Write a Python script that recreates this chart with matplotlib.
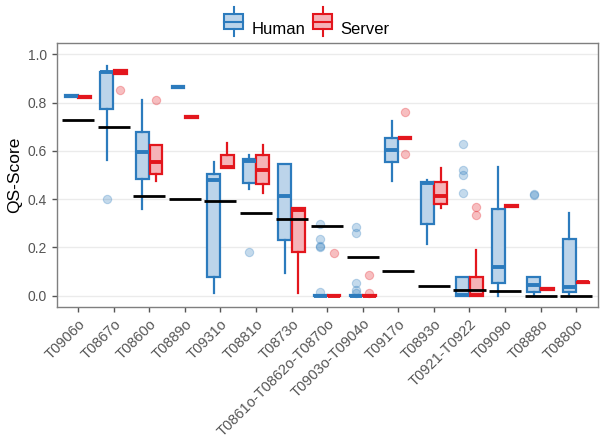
import numpy as np
import matplotlib
matplotlib.use("Agg")
from matplotlib import pyplot
from matplotlib.legend_handler import HandlerBase
from matplotlib.patches import Rectangle, Patch
from matplotlib.lines import Line2D
plt = pyplot

plt.rcParams['font.family'] = ['Liberation Sans', 'DejaVu Sans']

targets = ['T0906o', 'T0867o', 'T0860o', 'T0889o', 'T0931o', 'T0881o', 'T0873o',
           'T0861o-T0862o-T0870o', 'T0903o-T0904o', 'T0917o', 'T0893o',
           'T0921-T0922', 'T0909o', 'T0888o', 'T0880o']

# box stats: whisker low, q1, median, q3, whisker high
human_lo = [0.823, 0.562, 0.358, 0.862, 0.010, 0.443, 0.093, 0.0, 0.0, 0.476, 0.214, 0.0, 0.0, 0.0, 0.0]
human_q1 = [0.823, 0.775, 0.482, 0.862, 0.076, 0.468, 0.231, 0.0, 0.0, 0.553, 0.296, 0.0, 0.051, 0.017, 0.014]
human_med = [0.828, 0.925, 0.597, 0.866, 0.481, 0.558, 0.414, 0.0, 0.0, 0.604, 0.466, 0.005, 0.118, 0.044, 0.037]
human_q3 = [0.833, 0.928, 0.679, 0.870, 0.503, 0.568, 0.546, 0.003, 0.003, 0.653, 0.472, 0.077, 0.358, 0.079, 0.236]
human_hi = [0.833, 0.953, 0.813, 0.870, 0.555, 0.584, 0.546, 0.003, 0.003, 0.725, 0.478, 0.077, 0.533, 0.079, 0.341]
human_out = [[], [0.40], [], [], [], [0.182], [],
             [0.298, 0.235, 0.207, 0.203, 0.017], [0.285, 0.261, 0.051, 0.024, 0.012],
             [], [], [0.627, 0.521, 0.50, 0.427], [], [0.421, 0.418], []]

server_lo = [0.818, 0.920, 0.475, 0.738, 0.528, 0.427, 0.010, 0.0, 0.0, 0.651, 0.362, 0.0, 0.368, 0.025, 0.051]
server_q1 = [0.818, 0.920, 0.503, 0.738, 0.528, 0.464, 0.182, 0.0, 0.0, 0.651, 0.379, 0.0, 0.368, 0.025, 0.051]
server_med = [0.823, 0.927, 0.553, 0.742, 0.532, 0.521, 0.355, 0.0, 0.0, 0.655, 0.414, 0.003, 0.372, 0.029, 0.055]
server_q3 = [0.828, 0.935, 0.623, 0.746, 0.582, 0.583, 0.362, 0.003, 0.003, 0.659, 0.472, 0.077, 0.376, 0.033, 0.059]
server_hi = [0.828, 0.935, 0.623, 0.746, 0.634, 0.624, 0.362, 0.003, 0.003, 0.659, 0.528, 0.190, 0.376, 0.033, 0.059]
server_out = [[], [0.851], [0.809], [], [], [], [], [0.177], [0.086, 0.01],
              [0.761, 0.586], [], [0.367, 0.333], [], [], []]

# reference score per target (black bars)
reference = [0.73, 0.70, 0.412, 0.40, 0.391, 0.341, 0.32, 0.29, 0.16, 0.101, 0.04, 0.022, 0.021, 0.0, 0.0]

HUMAN_EDGE = '#2c7bbd'
HUMAN_FILL = '#bcd4ea'
SERVER_EDGE = '#e3161d'
SERVER_FILL = '#f5b3b8'


def make_stats(lo, q1, med, q3, hi, out):
    return [dict(whislo=lo[i], q1=q1[i], med=med[i], q3=q3[i], whishi=hi[i], fliers=out[i])
            for i in range(len(lo))]


def draw_group(ax, stats, pos, edge, fill):
    ax.bxp(stats, positions=pos, widths=0.36, patch_artist=True, showcaps=False,
           boxprops=dict(facecolor=fill, edgecolor=edge, linewidth=1.6),
           whiskerprops=dict(color=edge, linewidth=1.6),
           medianprops=dict(color=edge, linewidth=2.8, solid_capstyle='butt'),
           flierprops=dict(marker='o', markersize=6, markerfacecolor=edge,
                           markeredgecolor=edge, alpha=0.28, markeredgewidth=0.8))


class BoxHandler(HandlerBase):
    def create_artists(self, legend, orig, xd, yd, w, h, fontsize, trans):
        edge = orig.get_edgecolor()
        face = orig.get_facecolor()
        cx = xd + w / 2
        box = Rectangle((xd + 0.05 * w, yd + 0.1 * h), 0.9 * w, 0.8 * h,
                        facecolor=face, edgecolor=edge, linewidth=1.5, transform=trans)
        med = Line2D([xd + 0.05 * w, xd + 0.95 * w], [yd + 0.5 * h] * 2, color=edge, lw=1.5, transform=trans)
        wt = Line2D([cx, cx], [yd + 0.9 * h, yd + 1.3 * h], color=edge, lw=1.5, transform=trans)
        wb = Line2D([cx, cx], [yd + 0.1 * h, yd - 0.3 * h], color=edge, lw=1.5, transform=trans)
        return [box, med, wt, wb]


fig = plt.figure(figsize=(6.0, 4.46), dpi=100)
ax = fig.add_axes([0.0945, 0.312, 0.9015, 0.591])

x = np.arange(len(targets))
draw_group(ax, make_stats(human_lo, human_q1, human_med, human_q3, human_hi, human_out),
           x - 0.19, HUMAN_EDGE, HUMAN_FILL)
draw_group(ax, make_stats(server_lo, server_q1, server_med, server_q3, server_hi, server_out),
           x + 0.19, SERVER_EDGE, SERVER_FILL)
ax.hlines(reference, x - 0.45, x + 0.45, colors='black', linewidth=2.0, zorder=5)

ax.set_xlim(-0.6, len(targets) - 0.4)
ax.set_ylim(-0.046, 1.046)
ax.set_yticks([0.0, 0.2, 0.4, 0.6, 0.8, 1.0])
ax.set_yticklabels(['0.0', '0.2', '0.4', '0.6', '0.8', '1.0'])
ax.set_xticks(x)
ax.set_xticklabels(targets, rotation=45, ha='right', rotation_mode='anchor')
ax.yaxis.grid(True, color='#ebebeb', linewidth=1.0)
ax.set_axisbelow(True)
ax.tick_params(colors='#555555', labelsize=10.5, length=3.5, width=1)
ax.tick_params(axis='y', labelsize=10)
for s in ax.spines.values():
    s.set_color('#7f7f7f')
    s.set_linewidth(1.0)
ax.set_ylabel('QS-Score', fontsize=12.5, color='black', labelpad=4)

handles = [Patch(facecolor=HUMAN_FILL, edgecolor=HUMAN_EDGE, label='Human'),
           Patch(facecolor=SERVER_FILL, edgecolor=SERVER_EDGE, label='Server')]
fig.legend(handles=handles, handler_map={Patch: BoxHandler()}, loc='upper center',
           bbox_to_anchor=(0.51, 0.99), ncol=2, frameon=False, fontsize=12,
           handlelength=1.3, handleheight=1.3, handletextpad=0.4, columnspacing=0.4)

fig.savefig('out.png', dpi=100)
